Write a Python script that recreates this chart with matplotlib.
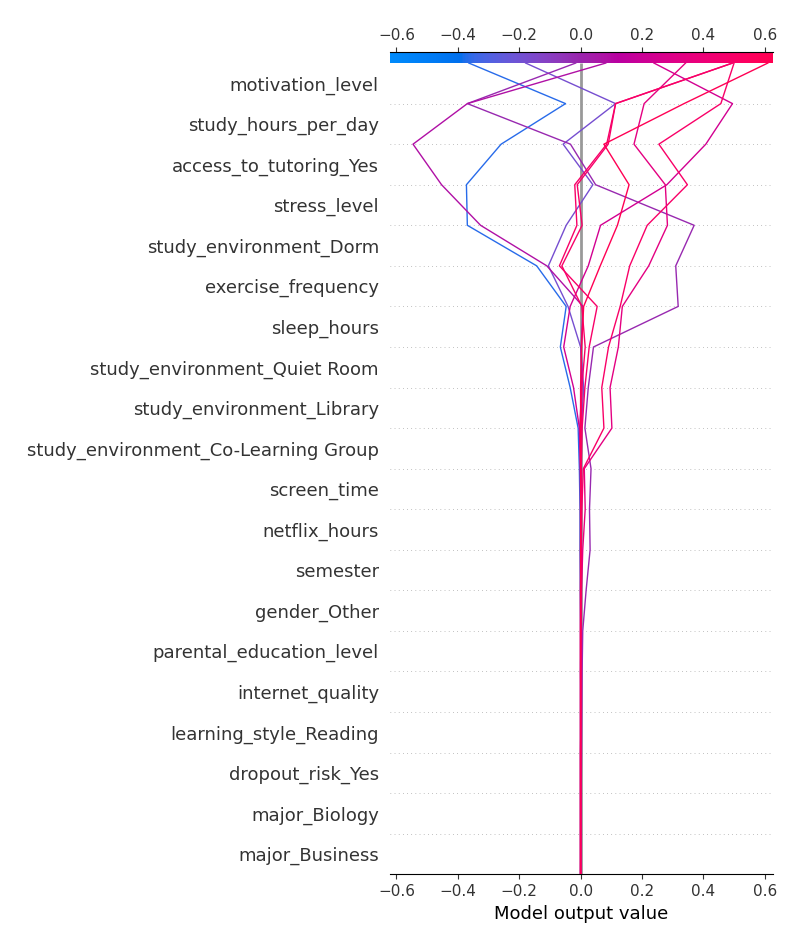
import numpy as np
import matplotlib
matplotlib.use("Agg")
import matplotlib.pyplot as plt
from matplotlib.colors import LinearSegmentedColormap, Normalize
from matplotlib.cm import ScalarMappable

# ---------------- data ----------------
features = [
    "motivation_level", "study_hours_per_day", "access_to_tutoring_Yes", "stress_level",
    "study_environment_Dorm", "exercise_frequency", "sleep_hours",
    "study_environment_Quiet Room", "study_environment_Library",
    "study_environment_Co-Learning Group", "screen_time", "netflix_hours", "semester",
    "gender_Other", "parental_education_level", "internet_quality",
    "learning_style_Reading", "dropout_risk_Yes", "major_Biology", "major_Business",
]
base_value = 0.0
xlim = (-0.621, 0.626)
x_ticks = [-0.6, -0.4, -0.2, 0.0, 0.2, 0.4, 0.6]

# model output after each feature, read top (final output) -> bottom (base value)
obs_1 = [-0.364, -0.049, -0.259, -0.372, -0.369, -0.143, -0.047, -0.066, -0.034, -0.008,
         -0.004, -0.002, -0.002, -0.001, 0.0, 0.0, 0.0, 0.0, 0.0, 0.0, 0.0]
obs_2 = [-0.179, 0.114, -0.057, 0.040, -0.047, -0.105, -0.041, 0.000, 0.010, 0.003,
         0.002, 0.001, 0.002, 0.001, 0.001, 0.0, 0.0, 0.0, 0.0, 0.0, 0.0]
obs_3 = [-0.016, -0.369, -0.033, 0.049, 0.370, 0.310, 0.318, 0.042, 0.025, 0.014,
         0.034, 0.029, 0.031, 0.018, 0.007, 0.005, 0.004, 0.003, 0.002, 0.001, 0.0]
obs_4 = [0.082, -0.369, -0.546, -0.453, -0.326, -0.110, 0.008, 0.002, 0.004, -0.003,
         -0.001, 0.0, 0.001, 0.0, 0.0, 0.0, 0.001, 0.0, 0.0, 0.0, 0.0]
obs_5 = [0.239, 0.495, 0.408, 0.281, 0.065, 0.025, -0.034, -0.055, -0.023, -0.004,
         0.0, 0.002, 0.001, 0.0, 0.0, 0.0, 0.0, 0.0, 0.0, 0.0, 0.0]
obs_6 = [0.342, 0.207, 0.174, 0.276, 0.283, 0.222, 0.136, 0.123, 0.096, 0.102,
         0.012, 0.015, 0.007, 0.003, 0.002, 0.001, 0.001, 0.0, 0.0, 0.0, 0.0]
obs_7 = [0.500, 0.457, 0.255, 0.348, 0.217, 0.160, 0.129, 0.091, 0.069, 0.076,
         0.009, 0.004, 0.002, 0.001, 0.0, 0.0, 0.0, 0.0, 0.0, 0.0, 0.0]
obs_8 = [0.495, 0.114, 0.085, -0.019, -0.012, -0.069, 0.054, 0.028, 0.014, 0.005,
         0.002, 0.001, 0.0, 0.0, 0.0, 0.0, 0.0, 0.0, 0.0, 0.0, 0.0]
obs_9 = [0.495, 0.114, 0.090, -0.011, 0.005, -0.061, 0.004, 0.015, 0.004, 0.002,
         0.001, 0.0, 0.0, 0.0, 0.0, 0.0, 0.0, 0.0, 0.0, 0.0, 0.0]
obs_10 = [0.610, 0.337, 0.076, 0.158, 0.120, 0.064, 0.010, 0.003, 0.0, 0.0,
          0.0, 0.0, 0.0, 0.0, 0.0, 0.0, 0.0, 0.0, 0.0, 0.0, 0.0]
observations = [obs_1, obs_2, obs_3, obs_4, obs_5, obs_6, obs_7, obs_8, obs_9, obs_10]


# ---------------- SHAP-like red/blue colormap (LCH interpolation) ----------------
def lch2rgb(l, c, h):
    a = c * np.cos(h)
    b = c * np.sin(h)
    fy = (l + 16.0) / 116.0
    fx = fy + a / 500.0
    fz = fy - b / 200.0

    def finv(t):
        return t ** 3 if t ** 3 > 0.008856 else (t - 16.0 / 116.0) / 7.787

    X = 0.95047 * finv(fx)
    Y = 1.00000 * finv(fy)
    Z = 1.08883 * finv(fz)
    r = 3.2406 * X - 1.5372 * Y - 0.4986 * Z
    g = -0.9689 * X + 1.8758 * Y + 0.0415 * Z
    bb = 0.0557 * X - 0.2040 * Y + 1.0570 * Z
    out = []
    for v in (r, g, bb):
        v = 1.055 * v ** (1 / 2.4) - 0.055 if v > 0.0031308 else 12.92 * v
        out.append(min(max(v, 0.0), 1.0))
    return out


blue_lch = [54.0, 70.0, 4.6588]
l_mid = 40.0
red_lch = [54.0, 90.0, 0.35470565 + 2 * np.pi]
nsteps = 100
l_vals = list(np.linspace(blue_lch[0], l_mid, nsteps // 2)) + list(np.linspace(l_mid, red_lch[0], nsteps // 2))
c_vals = np.linspace(blue_lch[1], red_lch[1], nsteps)
h_vals = np.linspace(blue_lch[2], red_lch[2], nsteps)
cols = [lch2rgb(l, c, h) for l, c, h in zip(l_vals, c_vals, h_vals)]
red_blue = LinearSegmentedColormap.from_list("red_blue", cols)

# ---------------- figure ----------------
fig = plt.figure(figsize=(8, 9.5), dpi=100)
ax = fig.add_axes([0.4875, 0.0797, 0.4784, 0.8652])

n = len(features)
y_pos = np.arange(n, -1, -1)  # top boundary (n) -> bottom (0)
cb_h = 0.264

norm = Normalize(vmin=xlim[0], vmax=xlim[1])
sm = ScalarMappable(norm=norm, cmap=red_blue)

# dotted separators
for i in range(1, n):
    ax.axhline(i, color="#888888", lw=0.5, dashes=(1, 5), zorder=-1)

# base value line
ax.vlines(base_value, 0, n, colors="#999999", linewidth=2, zorder=1)

for obs in observations:
    vals = np.array(obs)
    ax.plot(vals, y_pos, color=sm.to_rgba(vals[0]), linewidth=1, zorder=3)

ax.set_xlim(xlim)
ax.set_ylim(0, n + cb_h)
ax.set_yticks(np.arange(n) + 0.5)
ax.set_yticklabels(features[::-1], fontsize=13, color="#333333")
ax.tick_params(axis="y", length=0, pad=8)
ax.set_xticks(x_ticks)
ax.tick_params(axis="x", labelsize=11, labelcolor="#333333", color="#333333")
ax.set_xlabel("Model output value", fontsize=13)
for s in ("left", "right", "top"):
    ax.spines[s].set_visible(False)

# colorbar on top
cax = ax.inset_axes([xlim[0], n, xlim[1] - xlim[0], cb_h], transform=ax.transData)
cb = fig.colorbar(sm, cax=cax, orientation="horizontal")
cb.set_ticks([])
cb.outline.set_visible(False)

ax2 = ax.twiny()
ax2.set_xlim(xlim)
ax2.set_xticks(x_ticks)
ax2.tick_params(axis="x", labelsize=11, labelcolor="#333333", color="#333333")
for s in ("left", "right", "bottom"):
    ax2.spines[s].set_visible(False)

fig.savefig("out.png", dpi=100)
